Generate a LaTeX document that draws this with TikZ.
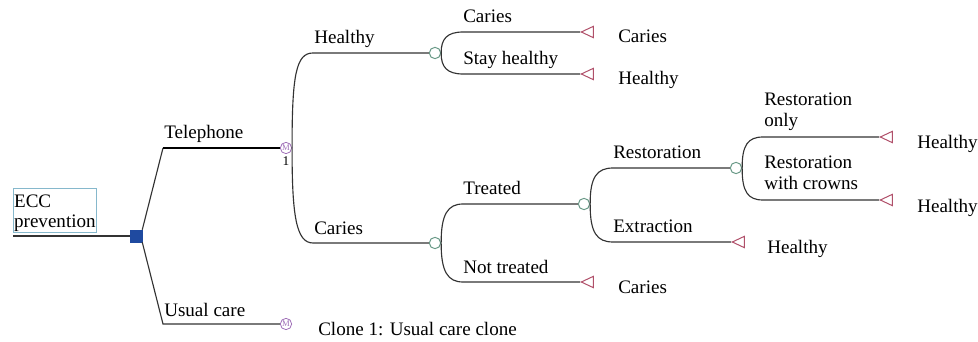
\documentclass[tikz,border=0pt]{standalone}
\usepackage{fontspec}
\setmainfont{Liberation Serif}
\usetikzlibrary{shapes.geometric}
\definecolor{linecol}{HTML}{333333}
\definecolor{chancecol}{HTML}{6A9A88}
\definecolor{termcol}{HTML}{B0506A}
\definecolor{clonecol}{HTML}{A070B8}
\definecolor{deccol}{HTML}{1F4AA0}
\definecolor{boxcol}{HTML}{86B8CC}
\begin{document}
\begin{tikzpicture}[x=0.75pt,y=-0.75pt,
  every node/.style={font=\fontsize{14.3}{15.75}\selectfont},
  conn/.style={draw=linecol,line width=0.85pt},
  thick conn/.style={draw=black,line width=1.9pt},
  lbl/.style={anchor=base west,inner sep=0pt,align=left},
  chance/.style={circle,draw=chancecol,fill=white,line width=0.75pt,minimum size=8.5pt,inner sep=0pt},
  terminal/.style={isosceles triangle,isosceles triangle stretches,shape border rotate=180,draw=termcol,line width=0.75pt,minimum width=8.5pt,minimum height=9pt,inner sep=0pt,anchor=apex},
  clone/.style={circle,draw=clonecol,line width=0.6pt,minimum size=8.5pt,inner sep=0pt,text=clonecol,font=\fontsize{6.5}{6.5}\selectfont},
  decision/.style={rectangle,fill=deccol,draw=deccol,minimum size=9pt,inner sep=0pt}]
\useasboundingbox (0,0) rectangle (978,342);

% root box
\node[draw=boxcol,line width=0.6pt,anchor=north west,inner xsep=0.5pt,inner ysep=0pt,
      minimum width=62.25pt,minimum height=33pt,align=left,font=\fontsize{14.3}{15}\selectfont] (ecc) at (13,188)
  {\rule{0pt}{14pt}ECC\\prevention};
\coordinate (root) at (13,236);
\node[decision] (dec) at (136,236) {};
\draw[conn] (root) -- (dec.west);

% telephone / usual care
\coordinate (telS) at (163,148);
\coordinate (ucS) at (163,324);
\node[clone] (m1) at (286,148) {M};
\node[clone] (m2) at (286,324) {M};
\node[inner sep=0pt,font=\fontsize{10}{10}\selectfont] (m1num) at (286,161) {1};
\draw[conn] (dec.north east) -- (telS);
\draw[thick conn] (telS) -- (m1.west);
\draw[conn] (dec.south east) -- (ucS) -- (m2.west);
\node[lbl] (telL) at (164,139) {Telephone};
\node[lbl] (ucL) at (164,316) {Usual care};
\node[lbl] (cloneL) at (318,335) {Clone 1: Usual care clone};

% first chance level
\coordinate (hS) at (313,53);
\coordinate (cS) at (313,243);
\node[chance] (H) at (435,53) {};
\node[chance] (C) at (435,243) {};
\draw[conn] (m1.east) .. controls (292,75) and (296,53) .. (hS) -- (H.west);
\draw[conn] (m1.east) .. controls (292,215) and (296,243) .. (cS) -- (C.west);
\node[lbl] (hL) at (314,44) {Healthy};
\node[lbl] (cL) at (314,234) {Caries};

% healthy branch
\coordinate (hcS) at (463,32);
\coordinate (hhS) at (463,74);
\node[terminal] (t1) at (580,32) {};
\node[terminal] (t2) at (580,74) {};
\draw[conn] (H.east) .. controls (441,39) and (447,32) .. (hcS) -- (t1.apex);
\draw[conn] (H.east) .. controls (441,67) and (447,74) .. (hhS) -- (t2.apex);
\node[lbl] (hcL) at (463,23) {Caries};
\node[lbl] (hhL) at (463,65) {Stay healthy};
\node[lbl] (o1) at (618,43) {Caries};
\node[lbl] (o2) at (618,85) {Healthy};

% caries branch
\coordinate (ctS) at (463,204);
\coordinate (cnS) at (463,282);
\node[chance] (T) at (584,204) {};
\node[terminal] (t3) at (580,282) {};
\draw[conn] (C.east) .. controls (441,214) and (448,204) .. (ctS) -- (T.west);
\draw[conn] (C.east) .. controls (441,272) and (448,282) .. (cnS) -- (t3.apex);
\node[lbl] (ctL) at (463,195) {Treated};
\node[lbl] (cnL) at (463,273) {Not treated};
\node[lbl] (o3) at (618,293) {Caries};

% treated branch
\coordinate (trS) at (613,168);
\coordinate (teS) at (613,242);
\node[chance] (R) at (736,168) {};
\node[terminal] (t4) at (731,242) {};
\draw[conn] (T.east) .. controls (590,177) and (597,168) .. (trS) -- (R.west);
\draw[conn] (T.east) .. controls (590,233) and (597,242) .. (teS) -- (t4.apex);
\node[lbl] (trL) at (613,159) {Restoration};
\node[lbl] (teL) at (613,233) {Extraction};
\node[lbl] (o4) at (767,253) {Healthy};

% restoration branch
\coordinate (roS) at (763,137);
\coordinate (rcS) at (763,200);
\node[terminal] (t5) at (879,137) {};
\node[terminal] (t6) at (879,200) {};
\draw[conn] (R.east) .. controls (742,145) and (748,137) .. (roS) -- (t5.apex);
\draw[conn] (R.east) .. controls (742,192) and (748,200) .. (rcS) -- (t6.apex);
\node[lbl] (roL) at (764,127) {Restoration\\only};
\node[lbl] (rcL) at (764,190) {Restoration\\with crowns};
\node[lbl] (o5) at (917,149) {Healthy};
\node[lbl] (o6) at (917,213) {Healthy};
\end{tikzpicture}
\end{document}
